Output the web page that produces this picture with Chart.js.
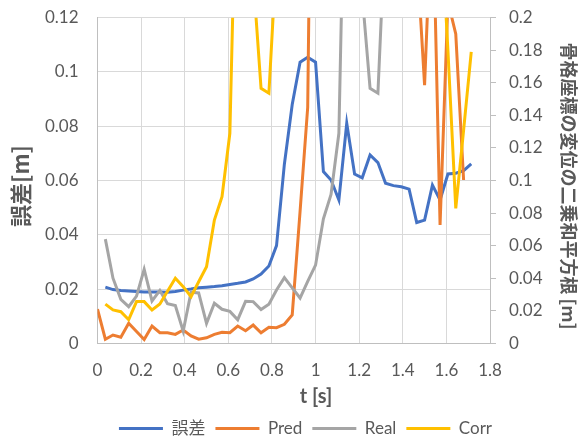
<!DOCTYPE html>
<html>
<head>
<meta charset="utf-8">
<script src="https://cdn.jsdelivr.net/npm/chart.js@4.4.1/dist/chart.umd.min.js"></script>
<style>
    html, body { margin: 0; padding: 0; background: #ffffff; }
    canvas { display: block; }
</style>
</head>
<body>
<canvas id="errorChart" width="581" height="437"></canvas>
<script>
// time stamps [s] (one frame every ~0.036 s)
const times = [0, 0.036, 0.071, 0.107, 0.143, 0.179, 0.214, 0.25, 0.286, 0.321,
    0.357, 0.393, 0.429, 0.464, 0.5, 0.536, 0.571, 0.607, 0.643, 0.679,
    0.714, 0.75, 0.786, 0.821, 0.857, 0.893, 0.929, 0.964, 1.0, 1.036,
    1.071, 1.107, 1.143, 1.179, 1.214, 1.25, 1.286, 1.321, 1.357, 1.393,
    1.429, 1.464, 1.5, 1.536, 1.571, 1.607, 1.643, 1.679, 1.714];

// 誤差 [m] (left axis)
const errorValues = [null, 0.0207, 0.0198, 0.0195, 0.0193, 0.0191, 0.0189, 0.0189, 0.0189, 0.0188,
    0.0191, 0.0196, 0.0200, 0.0205, 0.0207, 0.0209, 0.0212, 0.0217, 0.0221, 0.0226,
    0.0237, 0.0255, 0.0285, 0.036, 0.066, 0.088, 0.1036, 0.1054, 0.1036, 0.0633,
    0.0602, 0.0528, 0.0811, 0.0624, 0.061, 0.0694, 0.0666, 0.059, 0.0581, 0.0577,
    0.0568, 0.0445, 0.0454, 0.0583, 0.0528, 0.0624, 0.0627, 0.0636, 0.0661];

// 骨格座標の変位の二乗和平方根 [m] (right axis)
const predValues = [0.021, 0.0025, 0.0051, 0.0037, 0.0123, 0.0072, 0.0023, 0.0106, 0.0065, 0.0065,
    0.0055, 0.0082, 0.0045, 0.0025, 0.0034, 0.0055, 0.0068, 0.0065, 0.0106, 0.0077,
    0.0112, 0.0065, 0.0098, 0.0096, 0.0117, 0.0174, 0.081, 0.145, 0.55, 0.6,
    0.7, 0.8, 0.75, 0.7, 0.65, 0.6, 0.55, 0.5, 0.45, 0.4,
    0.3, 0.24, 0.1586, 0.28, 0.0727, 0.21, 0.19, 0.1003, null];

const realValues = [null, 0.064, 0.040, 0.027, 0.0225, 0.029, 0.0455, 0.026, 0.0325, 0.0243,
    0.0232, 0.0075, 0.0314, 0.0309, 0.0123, 0.0246, 0.0209, 0.0196, 0.0145, 0.0258,
    0.0256, 0.0207, 0.024, 0.0327, 0.0403, 0.034, 0.0278, 0.038, 0.048, 0.0765,
    0.0915, 0.129, 0.36, 0.4, 0.214, 0.1566, 0.1536, 0.26, 0.32, 0.35,
    0.38, 0.36, 0.33, 0.3, 0.28, 0.3, 0.33, 0.35, 0.34];

const corrValues = [null, 0.0241, 0.0205, 0.0194, 0.0145, 0.0256, 0.0256, 0.0205, 0.0241, 0.032,
    0.040, 0.0348, 0.0286, 0.0378, 0.047, 0.0757, 0.09, 0.129, 0.33, 0.3,
    0.225, 0.1566, 0.1536, 0.239, 0.3, 0.35, 0.4, 0.45, 0.5, 0.55,
    0.6, 0.6, 0.55, 0.5, 0.45, 0.5, 0.55, 0.6, 0.5, 0.45,
    0.4, 0.35, 0.3, 0.28, 0.27, 0.18, 0.0829, 0.131, 0.179];

// axis ticks
const xTicks = [0, 0.2, 0.4, 0.6, 0.8, 1, 1.2, 1.4, 1.6, 1.8];
const yTicks = [0, 0.02, 0.04, 0.06, 0.08, 0.1, 0.12];
const y2Ticks = [0, 0.02, 0.04, 0.06, 0.08, 0.1, 0.12, 0.14, 0.16, 0.18, 0.2];

const seriesNames = ['誤差', 'Pred', 'Real', 'Corr'];
const xTitle = 't [s]';
const yTitle = '誤差[m]';
const y2Title = '骨格座標の変位の二乗和平方根 [m]';

const textColor = '#595959';
const gridColor = '#d9d9d9';
const axisColor = '#bfbfbf';
const fontFamily = 'Lato, "Noto Sans CJK JP", sans-serif';

function toPoints(values) {
    return times.map((t, i) => ({ x: t, y: values[i] }));
}

function makeDataset(label, values, color, axis, order) {
    return {
        label: label,
        data: toPoints(values),
        yAxisID: axis,
        borderColor: color,
        backgroundColor: color,
        borderWidth: 3,
        pointRadius: 0,
        tension: 0,
        clip: 0,
        order: order
    };
}

// fixed width for the vertical axes, without the label overhang padding
function fixAxisWidth(width) {
    return function(axis) {
        axis.width = width;
        axis.paddingTop = 0;
        axis.paddingBottom = 0;
    };
}

// nudge the legend a bit lower and to the right, like the original
const legendShift = {
    id: 'legendShift',
    afterLayout(chart) {
        const legend = chart.legend;
        legend.top += 10;
        legend.bottom += 10;
        legend.left += 15;
        legend.right += 15;
    }
};

// draws the three axis titles where the original puts them
const axisTitles = {
    id: 'axisTitles',
    afterDraw(chart) {
        const ctx = chart.ctx;
        ctx.save();
        ctx.fillStyle = textColor;
        ctx.textAlign = 'center';
        ctx.textBaseline = 'middle';

        ctx.font = 'bold 20px ' + fontFamily;
        ctx.fillText(xTitle, 316, 397);

        ctx.save();
        ctx.translate(21, 186);
        ctx.rotate(-Math.PI / 2);
        ctx.font = 'bold 22px "Noto Sans CJK JP", sans-serif';
        ctx.fillText(yTitle, 0, 0);
        ctx.restore();

        ctx.save();
        ctx.translate(569, 186);
        ctx.rotate(Math.PI / 2);
        ctx.font = 'bold 18px "Noto Sans CJK JP", sans-serif';
        ctx.fillText(y2Title, 0, 0);
        ctx.restore();

        ctx.restore();
    }
};

function initErrorChart() {
    const ctx = document.getElementById('errorChart').getContext('2d');

    new Chart(ctx, {
        type: 'line',
        data: {
            datasets: [
                makeDataset(seriesNames[0], errorValues, '#4472C4', 'y', 3),
                makeDataset(seriesNames[1], predValues, '#ED7D31', 'y2', 2),
                makeDataset(seriesNames[2], realValues, '#A5A5A5', 'y2', 1),
                makeDataset(seriesNames[3], corrValues, '#FFC000', 'y2', 0)
            ]
        },
        options: {
            responsive: false,
            animation: false,
            devicePixelRatio: 1,
            layout: {
                padding: { top: 17.7, left: 0, right: 0, bottom: 0 }
            },
            plugins: {
                legend: {
                    position: 'bottom',
                    labels: {
                        boxWidth: 44,
                        boxHeight: 3,
                        padding: 10,
                        color: textColor,
                        font: { family: fontFamily, size: 17 },
                        sort: (a, b) => a.datasetIndex - b.datasetIndex,
                        generateLabels: function(chart) {
                            const items = Chart.defaults.plugins.legend.labels.generateLabels(chart);
                            return items.map(item => {
                                item.fillStyle = item.strokeStyle;
                                item.lineWidth = 0;
                                return item;
                            });
                        }
                    }
                },
                tooltip: { enabled: false }
            },
            scales: {
                x: {
                    type: 'linear',
                    min: 0,
                    max: 1.8,
                    afterBuildTicks: axis => { axis.ticks = xTicks.map(v => ({ value: v })); },
                    afterFit: axis => { axis.height = 56.7; },
                    grid: { color: gridColor, drawTicks: false },
                    border: { color: axisColor },
                    ticks: {
                        padding: 17,
                        color: textColor,
                        font: { family: fontFamily, size: 17 },
                        maxRotation: 0,
                        callback: value => String(value)
                    }
                },
                y: {
                    position: 'left',
                    min: 0,
                    max: 0.12,
                    afterBuildTicks: axis => { axis.ticks = yTicks.map(v => ({ value: v })); },
                    afterFit: fixAxisWidth(97.5),
                    grid: { color: gridColor, drawTicks: false },
                    border: { color: axisColor },
                    ticks: {
                        padding: 19,
                        color: textColor,
                        font: { family: fontFamily, size: 17 },
                        callback: value => String(value)
                    }
                },
                y2: {
                    position: 'right',
                    min: 0,
                    max: 0.2,
                    afterBuildTicks: axis => { axis.ticks = y2Ticks.map(v => ({ value: v })); },
                    afterFit: fixAxisWidth(91),
                    grid: { drawOnChartArea: false, drawTicks: true, tickLength: 6, color: axisColor },
                    border: { color: axisColor },
                    ticks: {
                        padding: 13,
                        color: textColor,
                        font: { family: fontFamily, size: 17 },
                        callback: value => String(value)
                    }
                }
            }
        },
        plugins: [legendShift, axisTitles]
    });
}

document.addEventListener('DOMContentLoaded', function() {
    initErrorChart();
});
</script>
</body>
</html>
